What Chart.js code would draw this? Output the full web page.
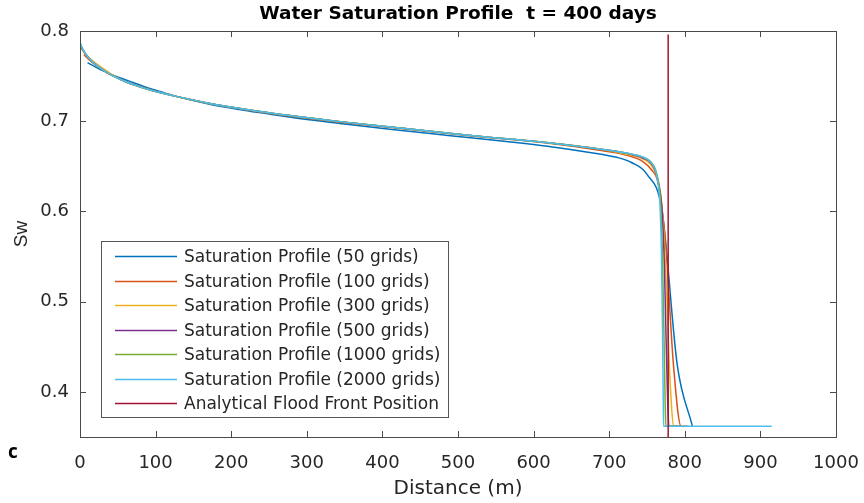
<!DOCTYPE html>
<html>
<head>
<meta charset="utf-8">
<script src="https://cdn.jsdelivr.net/npm/chart.js@4.4.1/dist/chart.umd.min.js"></script>
<style>
    html, body { margin: 0; padding: 0; background: #fff; }
    #area { width: 864px; height: 503px; position: relative; }
</style>
</head>
<body>
<div id="area"><canvas id="graficoSaturacao"></canvas></div>
<script>
// Perfis de saturacao (distancia em m, Sw)
const distancia50 = [10, 30, 50, 70, 90, 110, 130, 170, 210, 250, 290, 350, 410, 490, 570, 630, 670, 710, 730, 750, 770, 790, 810];
const sw50 = [0.765, 0.756, 0.749, 0.743, 0.737, 0.732, 0.727, 0.719, 0.713, 0.708, 0.703, 0.697, 0.691, 0.684, 0.677, 0.671, 0.666, 0.660, 0.654, 0.641, 0.600, 0.430, 0.362];

const distancia100 = [5, 15, 25, 35, 45, 65, 85, 105, 135, 175, 225, 285, 355, 435, 525, 615, 685, 725, 745, 755, 765, 775, 785, 795, 805];
const sw100 = [0.774, 0.766, 0.760, 0.754, 0.750, 0.742, 0.737, 0.732, 0.726, 0.719, 0.712, 0.705, 0.698, 0.691, 0.683, 0.676, 0.668, 0.662, 0.655, 0.647, 0.630, 0.560, 0.430, 0.362, 0.362];

const distancia300 = [1.7, 5, 10, 18, 28, 42, 60, 80, 100, 130, 170, 220, 280, 350, 430, 520, 610, 680, 720, 745, 755, 762, 768, 772, 776, 779, 782, 785, 800];
const sw300 = [0.781, 0.777, 0.772, 0.766, 0.760, 0.752, 0.744, 0.738, 0.733, 0.727, 0.720, 0.713, 0.706, 0.699, 0.692, 0.684, 0.677, 0.670, 0.664, 0.658, 0.652, 0.641, 0.620, 0.580, 0.510, 0.440, 0.390, 0.362, 0.362];

const distancia500 = [1, 3, 8, 15, 25, 40, 60, 80, 100, 130, 170, 220, 280, 350, 430, 520, 610, 680, 720, 745, 755, 761, 766, 770, 773, 775.5, 777.5, 779, 795];
const sw500 = [0.784, 0.780, 0.774, 0.767, 0.760, 0.752, 0.744, 0.738, 0.733, 0.727, 0.720, 0.713, 0.706, 0.699, 0.692, 0.684, 0.677, 0.670, 0.665, 0.659, 0.654, 0.645, 0.628, 0.600, 0.540, 0.450, 0.385, 0.362, 0.362];

const distancia1000 = [0.5, 3, 8, 15, 25, 40, 60, 80, 100, 130, 170, 220, 280, 350, 430, 520, 610, 680, 720, 745, 755, 761, 765, 768, 770.5, 772.5, 774, 775, 790];
const sw1000 = [0.786, 0.781, 0.774, 0.767, 0.760, 0.752, 0.744, 0.738, 0.733, 0.727, 0.720, 0.713, 0.706, 0.699, 0.692, 0.684, 0.677, 0.670, 0.665, 0.660, 0.655, 0.647, 0.633, 0.610, 0.550, 0.460, 0.390, 0.362, 0.362];

const distancia2000 = [0.25, 3, 8, 15, 25, 40, 60, 80, 100, 130, 170, 220, 280, 350, 430, 520, 610, 680, 720, 745, 755, 760, 764, 767, 769, 770.5, 771.5, 772, 915];
const sw2000 = [0.787, 0.781, 0.774, 0.767, 0.760, 0.752, 0.744, 0.738, 0.733, 0.727, 0.720, 0.713, 0.706, 0.699, 0.692, 0.684, 0.677, 0.670, 0.665, 0.660, 0.655, 0.648, 0.635, 0.610, 0.560, 0.470, 0.390, 0.362, 0.362];

// Frente de avanco analitica
const distanciaFrente = [778, 778];
const swFrente = [0.35, 0.796];

const rotulos = [
    'Saturation Profile (50 grids)',
    'Saturation Profile (100 grids)',
    'Saturation Profile (300 grids)',
    'Saturation Profile (500 grids)',
    'Saturation Profile (1000 grids)',
    'Saturation Profile (2000 grids)',
    'Analytical Flood Front Position'
];
const cores = ['#0072BD', '#D95319', '#EDB120', '#7E2F8E', '#77AC30', '#4DBEEE', '#A2142F'];

const ticksX = [0, 100, 200, 300, 400, 500, 600, 700, 800, 900, 1000];
const ticksY = [0.4, 0.5, 0.6, 0.7, 0.8];

const corTexto = '#262626';
const corEixo = '#4a4a4a';

function pontos(xs, ys) {
    return xs.map((x, i) => ({ x: x, y: ys[i] }));
}

const series = [
    pontos(distancia50, sw50),
    pontos(distancia100, sw100),
    pontos(distancia300, sw300),
    pontos(distancia500, sw500),
    pontos(distancia1000, sw1000),
    pontos(distancia2000, sw2000),
    pontos(distanciaFrente, swFrente)
];

const datasets = series.map((dados, i) => ({
    label: rotulos[i],
    data: dados,
    borderColor: cores[i],
    backgroundColor: cores[i],
    borderWidth: 1.5,
    pointRadius: 0,
    showLine: true,
    fill: false,
    cubicInterpolationMode: i < 6 ? 'monotone' : 'default',
    tension: 0,
    order: series.length - i  // ultima serie por cima, como no MATLAB
}));

// Moldura, ticks internos, titulo, legenda e letra do painel
const moldura = {
    id: 'moldura',
    afterDraw(chart) {
        const { ctx, chartArea: a, scales } = chart;
        ctx.save();
        ctx.strokeStyle = corEixo;
        ctx.lineWidth = 1;
        ctx.strokeRect(a.left + 0.5, a.top + 0.5, a.right - a.left, a.bottom - a.top);

        ctx.beginPath();
        ticksX.forEach(v => {
            const px = Math.round(scales.x.getPixelForValue(v)) + 0.5;
            ctx.moveTo(px, a.bottom); ctx.lineTo(px, a.bottom - 6);
            ctx.moveTo(px, a.top); ctx.lineTo(px, a.top + 6);
        });
        ticksY.forEach(v => {
            const py = Math.round(scales.y.getPixelForValue(v)) + 0.5;
            ctx.moveTo(a.left, py); ctx.lineTo(a.left + 6, py);
            ctx.moveTo(a.right, py); ctx.lineTo(a.right - 6, py);
        });
        ctx.stroke();

        // titulo
        ctx.fillStyle = '#000';
        ctx.font = 'bold 18.5px "DejaVu Sans"';
        ctx.textAlign = 'center';
        ctx.textBaseline = 'middle';
        ctx.fillText('Water Saturation Profile  t = 400 days', (a.left + a.right) / 2, 14);

        // legenda
        const caixa = { x: 101, y: 241, w: 347, h: 176 };
        ctx.fillStyle = '#fff';
        ctx.fillRect(caixa.x, caixa.y, caixa.w, caixa.h);
        ctx.strokeStyle = '#555';
        ctx.strokeRect(caixa.x + 0.5, caixa.y + 0.5, caixa.w, caixa.h);
        ctx.font = '17px "DejaVu Sans"';
        ctx.textAlign = 'left';
        rotulos.forEach((r, i) => {
            const ly = Math.round(256 + i * 24.5) + 0.5;
            ctx.strokeStyle = cores[i];
            ctx.lineWidth = 1.5;
            ctx.beginPath();
            ctx.moveTo(115, ly); ctx.lineTo(177, ly);
            ctx.stroke();
            ctx.fillStyle = corTexto;
            ctx.fillText(r, 184, ly + 1);
        });

        // letra do painel
        ctx.fillStyle = '#000';
        ctx.font = 'bold 19px "Open Sans"';
        ctx.textAlign = 'center';
        ctx.fillText('c', 13, 453);
        ctx.restore();
    }
};

const canvas = document.getElementById('graficoSaturacao');
new Chart(canvas.getContext('2d'), {
    type: 'scatter',
    data: { datasets: datasets },
    options: {
        responsive: true,
        maintainAspectRatio: false,
        animation: false,
        devicePixelRatio: 1,
        layout: { padding: { top: 31, right: 28, bottom: 0, left: 0 } },
        plugins: {
            legend: { display: false },
            title: { display: false },
            tooltip: { enabled: false }
        },
        scales: {
            x: {
                type: 'linear',
                min: 0,
                max: 1000,
                grid: { display: false, drawTicks: false },
                border: { display: false },
                afterBuildTicks: s => { s.ticks = ticksX.map(v => ({ value: v })); },
                afterFit: s => { s.height = 66; s.paddingLeft = 0; s.paddingRight = 0; },
                ticks: {
                    padding: 16,
                    color: corTexto,
                    font: { family: 'DejaVu Sans', size: 18 },
                    maxRotation: 0,
                    callback: v => String(v)
                },
                title: {
                    display: true,
                    text: 'Distance (m)',
                    color: corTexto,
                    font: { family: 'DejaVu Sans', size: 20 },
                    padding: { top: 0, bottom: 2 }
                }
            },
            y: {
                type: 'linear',
                min: 0.35,
                max: 0.8,
                grid: { display: false, drawTicks: false },
                border: { display: false },
                afterBuildTicks: s => { s.ticks = ticksY.map(v => ({ value: v })); },
                afterFit: s => { s.width = 80; s.paddingTop = 0; s.paddingBottom = 0; },
                ticks: {
                    padding: 11,
                    color: corTexto,
                    font: { family: 'DejaVu Sans', size: 18 },
                    callback: v => v.toFixed(1)
                },
                title: {
                    display: true,
                    text: 'Sw',
                    color: corTexto,
                    font: { family: 'Liberation Sans', size: 19 },
                    padding: { top: 10, bottom: 0 }
                }
            }
        }
    },
    plugins: [moldura]
});
</script>
</body>
</html>
